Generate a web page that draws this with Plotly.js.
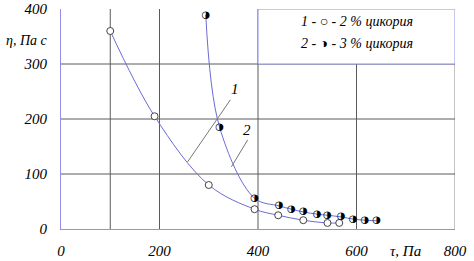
<!DOCTYPE html>
<html><head><meta charset="utf-8">
<script src="https://cdn.plot.ly/plotly-3.0.1.min.js"></script>
<style>html,body{margin:0;padding:0;background:#fff}#c{width:474px;height:261px}
#c text.sertext, #c .xtick text, #c .ytick text, #c .annotation-text {font-family: "Liberation Serif", "Times New Roman", serif !important; font-style: italic !important;}
</style>
</head><body><div id="c"></div>
<script>
// Series 1: 2 % chicory (open circles)
const tau1 = [100, 190, 300, 393, 441, 492, 541, 565];
const eta1 = [360, 205, 80, 36, 25, 16, 11, 11];
// Series 2: 3 % chicory (half-filled circles)
const tau2 = [294, 322, 393, 443, 468, 492, 520, 541, 569, 593, 617, 641];
const eta2 = [389, 185, 56, 42, 36, 31, 27, 25, 22, 18, 16, 15];
// Axis ticks
const xTicks = [0, 200, 400, 600, 800];
const yTicks = [0, 100, 200, 300, 400];
const xGrid = [100, 200, 400, 600, 800];
const yGrid = [100, 200, 300];
const legendLines = ["1 - \u25CB - 2 % цикория", "2 - \u25D1 - 3 % цикория"];

const serif = "Liberation Serif";
const lineCol = "#6b6bd6";
const gridCol = "#5a5a5a";
const axisCol = "#9090e8";

const traces = [
  {x: tau1, y: eta1, mode: "lines", line: {shape: "spline", color: lineCol, width: 1}, hoverinfo: "skip"},
  {x: tau2, y: eta2, mode: "lines", line: {shape: "spline", color: lineCol, width: 1}, hoverinfo: "skip"},
  {x: tau1, y: eta1, mode: "markers", marker: {symbol: "circle", size: 7, color: "#ffffff", line: {color: "#444", width: 1}}},
  {x: tau2, y: eta2, mode: "text", text: tau2.map(() => "\u25D1"), textposition: "middle center",
   textfont: {family: "DejaVu Sans", size: 10, color: "#000"}}
];

const shapes = [];
xGrid.forEach(v => shapes.push({type: "line", xref: "x", yref: "y", x0: v, x1: v, y0: 0, y1: v === 800 ? 300 : 400, line: {color: v === 800 ? "#888" : gridCol, width: 1}, layer: "below"}));
yGrid.forEach(v => shapes.push({type: "line", xref: "x", yref: "y", x0: 0, x1: 800, y0: v, y1: v, line: {color: gridCol, width: 1}, layer: "below"}));
// legend box
shapes.push({type: "rect", xref: "x", yref: "y", x0: 400, x1: 800, y0: 300, y1: 400, fillcolor: "#fff", line: {color: axisCol, width: 1}, layer: "below"});
// leader lines for curve labels
shapes.push({type: "line", xref: "x", yref: "y", x0: 257, y0: 122, x1: 344, y1: 235, line: {color: "#777", width: 1}});
shapes.push({type: "line", xref: "x", yref: "y", x0: 346, y0: 113, x1: 379, y1: 162, line: {color: "#777", width: 1}});

const ital = (size) => ({family: serif, size: size, color: "#000", style: "italic"});
const ann = [
  {xref: "x", yref: "y", x: 354, y: 255, text: "1", showarrow: false, font: ital(15)},
  {xref: "x", yref: "y", x: 378, y: 180, text: "2", showarrow: false, font: ital(15)},
  {xref: "x", yref: "y", x: 600, y: 377, text: legendLines[0], showarrow: false, font: ital(14)},
  {xref: "x", yref: "y", x: 600, y: 337, text: legendLines[1], showarrow: false, font: ital(14)},
  {xref: "paper", yref: "paper", x: -0.145, y: 0.855, xanchor: "left", yanchor: "middle", text: "\u03B7, Па с", showarrow: false, font: ital(14)},
  {xref: "x", yref: "paper", x: 700, y: 0, yanchor: "top", yshift: -12, text: "\u03C4, Па", showarrow: false, font: ital(15)}
];

const layout = {
  width: 474, height: 261,
  margin: {l: 61, r: 19, t: 9, b: 32},
  paper_bgcolor: "#fff", plot_bgcolor: "#fff",
  showlegend: false,
  font: ital(15),
  xaxis: {range: [0, 800], tickvals: xTicks, ticktext: xTicks.map(String), showgrid: false, zeroline: false,
          showline: true, linecolor: axisCol, linewidth: 1, ticks: "", ticklabelstandoff: 8,
          tickfont: ital(15)},
  yaxis: {range: [0, 400], tickvals: yTicks, ticktext: yTicks.map(String), showgrid: false, zeroline: false,
          showline: true, linecolor: axisCol, linewidth: 1, ticks: "", ticklabelstandoff: 10,
          tickfont: ital(15)},
  shapes: shapes,
  annotations: ann
};
Plotly.newPlot("c", traces, layout, {staticPlot: true, displayModeBar: false});
</script></body></html>
